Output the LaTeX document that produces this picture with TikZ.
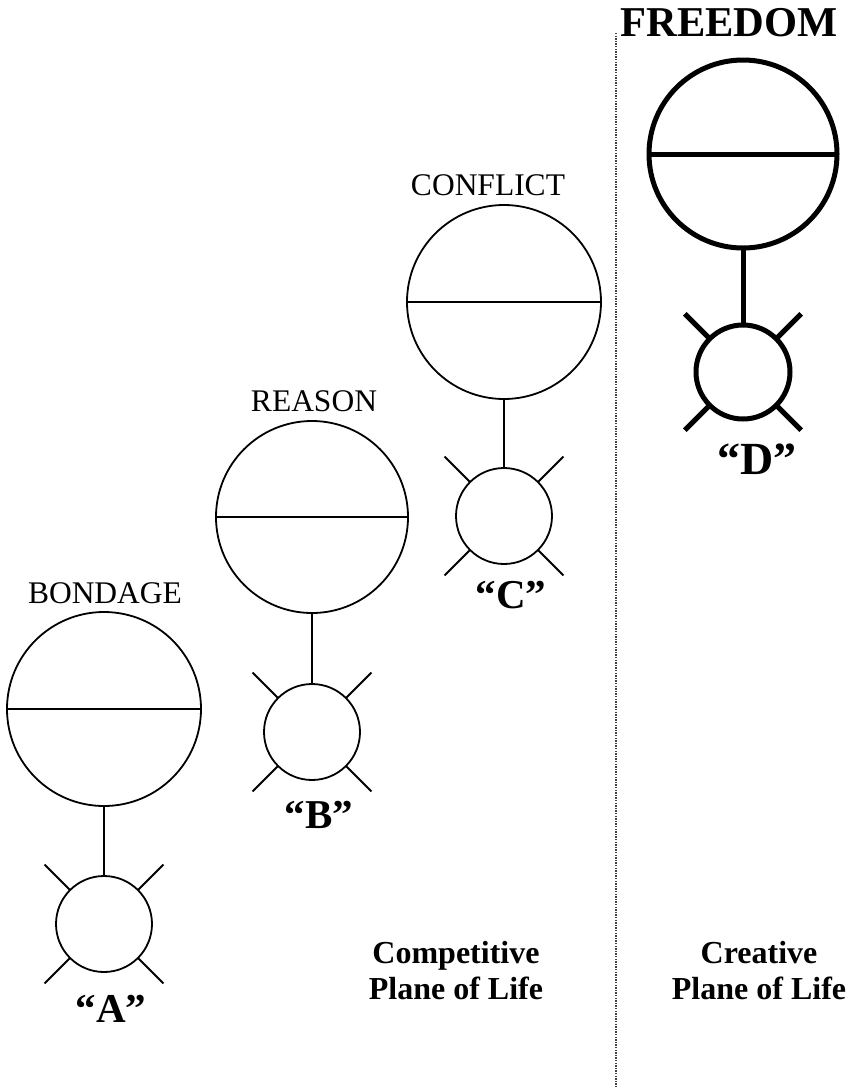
\documentclass[tikz,border=0pt]{standalone}
\usepackage{fontspec}
\setmainfont{Liberation Serif}
\usetikzlibrary{calc}
\begin{document}
\begin{tikzpicture}[x=1pt,y=-1pt,
  ring/.style={draw, circle, inner sep=0pt, outer sep=0pt},
  title/.style={anchor=base, inner sep=0pt, font=\fontsize{31.5}{36}\selectfont},
  bigtitle/.style={anchor=base, inner sep=0pt, font=\fontsize{42.5}{46}\selectfont\bfseries},
  letter/.style={anchor=base, inner sep=0pt, font=\fontsize{41}{45}\selectfont\bfseries},
  bigletter/.style={anchor=base, inner sep=0pt, font=\fontsize{46}{50}\selectfont\bfseries},
  plane/.style={anchor=base, inner sep=0pt, align=center, font=\fontsize{32}{36}\selectfont\bfseries},
  divider/.style={draw=black!75, line width=1.5pt, dash pattern=on 1.3pt off 1.3pt}]
\useasboundingbox (0,0) rectangle (850,1088);
\foreach \n/\bx/\by/\br/\sx/\sy/\sr/\lw in {A/104/709/97/104/924/48/1.8, B/312/517/96/312/732/48/1.8, C/504/302/97/504/516/48/1.8, D/743/154/94/743/372/47/5}{
  \node[ring, line width=\lw pt, minimum size={2*\br pt}] (big\n) at (\bx,\by) {};
  \node[ring, line width=\lw pt, minimum size={2*\sr pt}] (small\n) at (\sx,\sy) {};
  \draw[line width=\lw pt] (big\n.west) -- (big\n.east);
  \draw[line width=\lw pt] (big\n.south) -- (small\n.north);
  \foreach \a in {45,135,225,315}{
    \draw[line width=\lw pt] (small\n.\a) -- ($(small\n.center)!1.75!(small\n.\a)$);
  }
}
\node[title] (tA) at (105,603) {BONDAGE};
\node[title] (tB) at (314,411) {REASON};
\node[title] (tC) at (488,195) {CONFLICT};
\node[bigtitle] (tD) at (729,36) {FREEDOM};
\node[letter] (lA) at (111,1022) {“A”};
\node[letter] (lB) at (319,828) {“B”};
\node[letter] (lC) at (511,608) {“C”};
\node[bigletter] (lD) at (757,474) {“D”};
\coordinate (dtop) at (616,33);
\coordinate (dbot) at (616,1088);
\draw[divider] (dtop) -- (dbot);
\node[plane] (comp) at (456,999) {Competitive\\Plane of Life};
\node[plane] (crea) at (759,999) {Creative\\Plane of Life};
\end{tikzpicture}
\end{document}
